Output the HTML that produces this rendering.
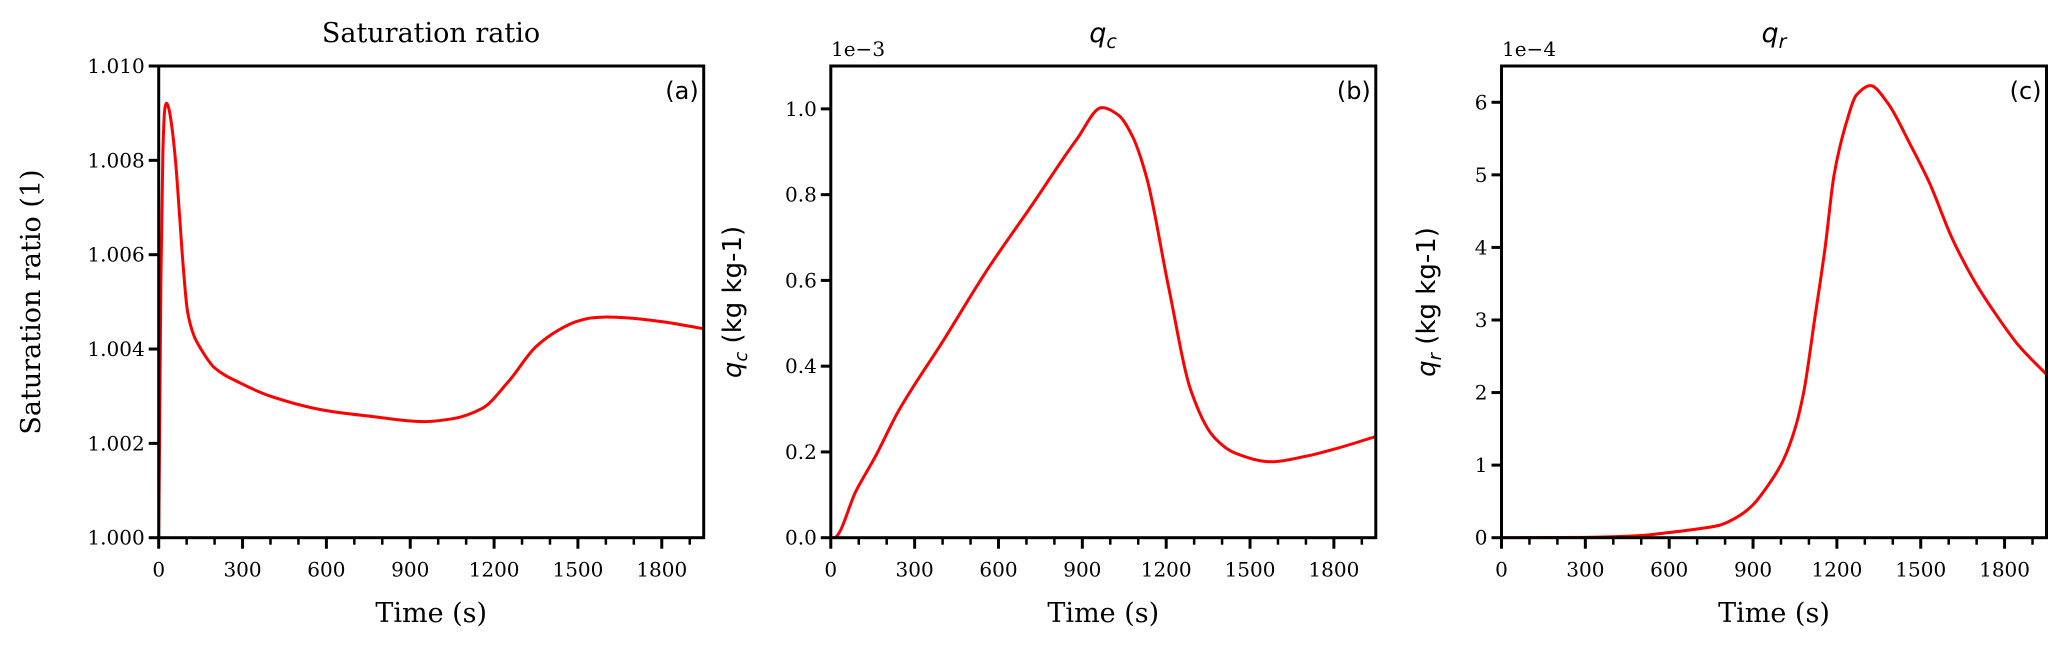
<!DOCTYPE html>
<html><head><meta charset="utf-8"><style>
html,body{margin:0;padding:0;background:#fff;}
svg{display:block;}
.tk{font-family:"DejaVu Serif","Liberation Serif",serif;font-size:20px;fill:#000;}
.ttl{font-family:"DejaVu Serif","Liberation Serif",serif;font-size:27px;fill:#000;}
.sans{font-family:"DejaVu Sans","Liberation Sans",sans-serif;fill:#000;}
</style></head><body>
<svg id="fig" width="2067" height="646" viewBox="0 0 2067 646" xmlns="http://www.w3.org/2000/svg"></svg>
<script>
const xTicks=[0,300,600,900,1200,1500,1800];
const satT=[0,3,8,15,22,28,36,45,60,75,87,103,125,151,200,295,400,594,750,950,1050,1157,1250,1350,1430,1493,1550,1605,1700,1800,1950];
const satV=[1.000,1.002,1.0055,1.0082,1.0091,1.00921,1.0091,1.0088,1.0080,1.0068,1.0058,1.0048,1.0043,1.0040,1.0036,1.00327,1.0030,1.0027,1.00258,1.00246,1.00252,1.00274,1.0033,1.00405,1.0044,1.00458,1.00466,1.00468,1.00465,1.00458,1.00443];
const satTicks=[1.000,1.002,1.004,1.006,1.008,1.010];
const qcT=[0,11,91,160,241,400,560,719,879,970,1030,1080,1130,1209,1289,1369,1448,1575,1700,1820,1950];
const qcV=[0,0,0.11,0.19,0.294,0.457,0.625,0.775,0.928,1.003,0.985,0.935,0.84,0.583,0.342,0.236,0.197,0.177,0.19,0.21,0.236];
const qcTicks=[0.0,0.2,0.4,0.6,0.8,1.0];
const qrT=[0,300,500,596,700,778,850,899,950,1006,1050,1082,1120,1158,1190,1234,1270,1320,1380,1461,1530,1613,1690,1765,1850,1950];
const qrV=[0,0.005,0.03,0.07,0.12,0.17,0.3,0.45,0.7,1.05,1.5,2.02,3.0,4.0,5.0,5.72,6.1,6.23,6.0,5.43,4.9,4.12,3.55,3.1,2.65,2.25];
const qrTicks=[0,1,2,3,4,5,6];

const svg=document.getElementById('fig');
const NS='http://www.w3.org/2000/svg';
function mk(tag,attrs,parent){const e=document.createElementNS(NS,tag);for(const k in attrs)e.setAttribute(k,attrs[k]);(parent||svg).appendChild(e);return e;}
function path(pts){
 const n=pts.length,dx=[],s=[],m=[];
 for(let i=0;i<n-1;i++){dx[i]=pts[i+1][0]-pts[i][0];s[i]=(pts[i+1][1]-pts[i][1])/dx[i];}
 m[0]=s[0];m[n-1]=s[n-2];
 for(let i=1;i<n-1;i++){ if(s[i-1]*s[i]<=0)m[i]=0; else {const w1=2*dx[i]+dx[i-1],w2=dx[i]+2*dx[i-1];m[i]=(w1+w2)/(w1/s[i-1]+w2/s[i]);}}
 let d='M'+pts[0][0].toFixed(2)+','+pts[0][1].toFixed(2);
 for(let i=0;i<n-1;i++){const h=dx[i]/3;
  d+=' C'+(pts[i][0]+h).toFixed(2)+','+(pts[i][1]+m[i]*h).toFixed(2)+' '+(pts[i+1][0]-h).toFixed(2)+','+(pts[i+1][1]-m[i+1]*h).toFixed(2)+' '+pts[i+1][0].toFixed(2)+','+pts[i+1][1].toFixed(2);}
 return d;}

function panel(cfg){
 const L=cfg.left,R=cfg.left+545,T=66,B=537.7;
 const xs=t=>L+(t/1950)*(R-L);
 const ys=v=>B-(v-cfg.ymin)/(cfg.ymax-cfg.ymin)*(B-T);
 const g=mk('g',{});
 
 
 const pts=cfg.t.map((t,i)=>[xs(t),ys(cfg.v[i])]);
 const cp=mk('clipPath',{id:'clip'+cfg.id},g);mk('rect',{x:L,y:T,width:R-L,height:B-T},cp);
 const line=mk('path',{d:path(pts),fill:'none',stroke:'#ff0000','stroke-width':3,'clip-path':'url(#clip'+cfg.id+')'},g);
 
 
 for(let t=0;t<=1950;t+=100){const x=xs(t);const major=t%300===0;
  mk('line',{x1:x,x2:x,y1:B,y2:B+(major?11:7),stroke:'#000','stroke-width':major?3:2.5},g);}
 xTicks.forEach(t=>{const e=mk('text',{x:xs(t),y:B+39,'text-anchor':'middle',class:'tk'},g);e.textContent=t;
  
  });
 cfg.ticks.forEach(v=>{const y=ys(v);mk('line',{x1:L-10,x2:L,y1:y,y2:y,stroke:'#000','stroke-width':3},g);
  const e=mk('text',{x:L-14,y:y+7,'text-anchor':'end',class:'tk'},g);e.textContent=cfg.fmt(v);
  
  });
 mk('rect',{x:L,y:T,width:R-L,height:B-T,fill:'none',stroke:'#000','stroke-width':3},g);
 const xl=mk('text',{x:(L+R)/2,y:622,'text-anchor':'middle',class:'ttl'},g);xl.textContent='Time (s)';
 
 
 const pl=mk('text',{x:R-5,y:99,'text-anchor':'end',class:'sans','font-size':'24'},g);pl.textContent=cfg.label;
 
 
 return {L,R,g};
}
panel({id:'a',name:'panel-saturation',left:158.7,t:satT,v:satV,ymin:1.0,ymax:1.010,ticks:satTicks,fmt:v=>v.toFixed(3),label:'(a)'});
panel({id:'b',name:'panel-qc',left:830.8,t:qcT,v:qcV,ymin:0,ymax:1.1,ticks:qcTicks,fmt:v=>v.toFixed(1),label:'(b)'});
panel({id:'c',name:'panel-qr',left:1501.5,t:qrT,v:qrV,ymin:0,ymax:6.5,ticks:qrTicks,fmt:v=>String(v),label:'(c)'});
</script>
<div style="position:absolute;left:0;top:0;width:2067px;height:646px;pointer-events:none">
<svg width="2067" height="646" xmlns="http://www.w3.org/2000/svg">
<text x="431" y="42" text-anchor="middle" class="ttl">Saturation ratio</text>
<text x="1103" y="42" text-anchor="middle" class="sans" font-size="27" font-style="italic">q<tspan font-size="19" dy="6">c</tspan></text>
<text x="1774" y="42" text-anchor="middle" class="sans" font-size="27" font-style="italic">q<tspan font-size="19" dy="6">r</tspan></text>
<text x="831" y="56" class="tk">1e−3</text>
<text x="1502" y="56" class="tk">1e−4</text>
<text transform="translate(40,302) rotate(-90)" text-anchor="middle" class="ttl">Saturation ratio (1)</text>
<text transform="translate(741,302) rotate(-90)" text-anchor="middle" class="sans" font-size="26"><tspan font-style="italic">q</tspan><tspan font-style="italic" font-size="18" dy="6">c</tspan><tspan dy="-6"> (kg kg-1)</tspan></text>
<text transform="translate(1435,302) rotate(-90)" text-anchor="middle" class="sans" font-size="26"><tspan font-style="italic">q</tspan><tspan font-style="italic" font-size="18" dy="6">r</tspan><tspan dy="-6"> (kg kg-1)</tspan></text>
</svg></div>
</body></html>
